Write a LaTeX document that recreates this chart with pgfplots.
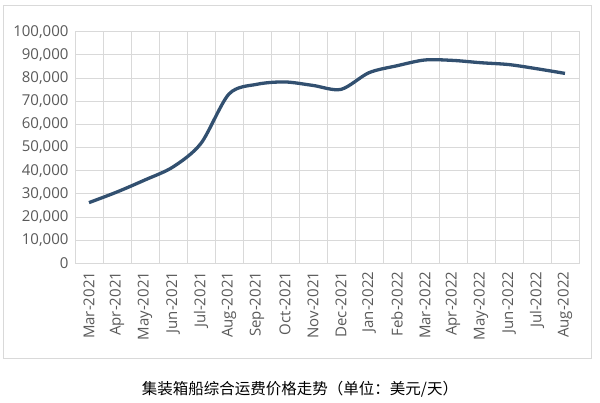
\documentclass[border=0pt]{standalone}
\usepackage{pgfplots}
\pgfplotsset{compat=1.18}
\usepackage{fontspec}
\setmainfont{Noto Sans CJK SC}
\newfontfamily\tickfont{Open Sans}
\definecolor{lineblue}{RGB}{50,80,112}
\definecolor{gridgray}{RGB}{217,217,217}
\definecolor{ticktext}{RGB}{89,89,89}
\begin{document}
\begin{tikzpicture}[x=1pt,y=1pt]
% page frame and outer chart border
\path (0,0) rectangle (600,402);
\draw[gridgray, line width=0.8pt] (3,44) rectangle (591,397);
\begin{axis}[
    at={(75pt,138.7pt)}, anchor=south west,
    scale only axis, width=504pt, height=231.6pt,
    xmin=-0.5, xmax=17.5, ymin=0, ymax=100000,
    xtick={0,...,17},
    xticklabels={Mar-2021,Apr-2021,May-2021,Jun-2021,Jul-2021,Aug-2021,Sep-2021,Oct-2021,Nov-2021,Dec-2021,Jan-2022,Feb-2022,Mar-2022,Apr-2022,May-2022,Jun-2022,Jul-2022,Aug-2022},
    minor xtick={0.5,1.5,...,16.5},
    ytick={0,10000,...,100000},
    scaled y ticks=false,
    yticklabel style={/pgf/number format/fixed,/pgf/number format/1000 sep={,}},
    /pgf/number format/assume math mode=true,
    ymajorgrids, xminorgrids,
    grid style={gridgray, line width=0.8pt},
    minor grid style={gridgray, line width=0.8pt},
    axis line style={gridgray, line width=0.8pt},
    major tick length=0pt, minor tick length=0pt,
    tick label style={font=\tickfont\fontsize{15}{17}\selectfont, text=ticktext},
    x tick label style={rotate=90, anchor=east},
    xticklabel shift=5pt, yticklabel shift=3pt,
]
\addplot[lineblue, line width=3.3pt, smooth, tension=0.5] coordinates {
(0,26200) (1,30800) (2,36000) (3,41600) (4,51800) (5,73100)
(6,77300) (7,78300) (8,76800) (9,75100) (10,82300) (11,85300)
(12,87800) (13,87600) (14,86600) (15,85800) (16,84000) (17,82000)
};
\end{axis}
\node[font=\fontsize{15.5}{17}\selectfont, text=black] at (300,13) {集装箱船综合运费价格走势（单位：美元/天）};
\end{tikzpicture}
\end{document}
